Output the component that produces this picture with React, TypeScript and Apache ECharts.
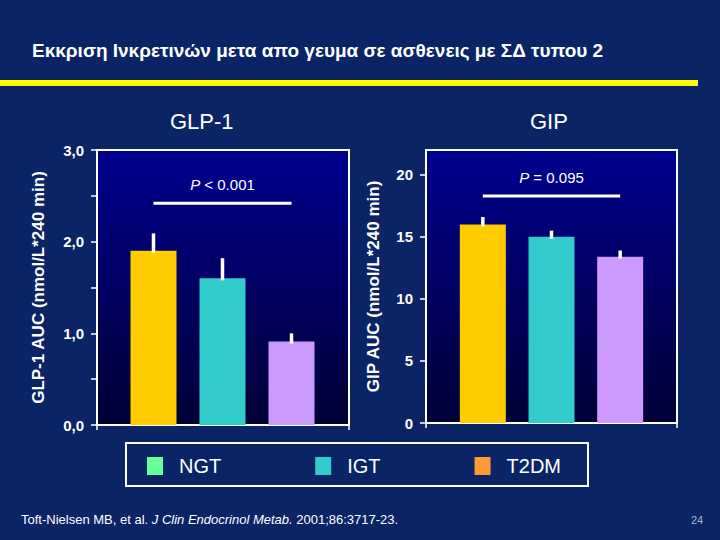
import React, { useEffect, useRef } from "react";
import * as echarts from "echarts";

const categories = ["NGT", "IGT", "T2DM"];
const glpMeans = [1.9, 1.6, 0.91];
const glpSem = [0.19, 0.22, 0.09];
const gipMeans = [16.0, 15.0, 13.4];
const gipSem = [0.6, 0.5, 0.5];
const barColors = ["#ffcc00", "#33cccc", "#cc99ff"];
const legendColors = ["#66ff99", "#33cccc", "#ff9933"];
const glpTickLabels = [0, 1, 2, 3];
const gipTickLabels = [0, 5, 10, 15, 20];
const pRest = [" < 0.001", " = 0.095"];
const pLineLevels = [2.42, 18.3];
const pTextLevels = [2.62, 19.75];

const FONT = "Liberation Sans, Arial, sans-serif";
const BG = "#0a2466";

export default function App() {
  const ref = useRef<HTMLDivElement>(null);
  useEffect(() => {
    document.body.style.margin = "0";
    const chart = echarts.init(ref.current!, undefined, { renderer: "svg" });
    const plotBg = new echarts.graphic.LinearGradient(0, 0, 0, 1, [
      { offset: 0, color: "#00008f" },
      { offset: 1, color: "#000036" },
    ]);
    const frameGrid = (left: number, width: number, height: number) => ({
      left,
      top: 150,
      width,
      height,
      show: true,
      borderColor: "#ffffff",
      borderWidth: 2,
      backgroundColor: plotBg,
    });
    const barGrid = (left: number, width: number, height: number) => ({
      left,
      top: 150,
      width,
      height,
    });
    const frameX = (gridIndex: number) => ({
      type: "category",
      gridIndex,
      data: [""],
      boundaryGap: true,
      axisLine: { lineStyle: { color: "#fff", width: 2 } },
      axisTick: { show: true, length: 5, lineStyle: { color: "#fff", width: 1.5 } },
      axisLabel: { show: false },
    });
    const barX = (gridIndex: number) => ({
      type: "category",
      gridIndex,
      data: categories,
      show: false,
    });
    const errSeries = (xi: number, means: number[], sem: number[]) => ({
      type: "custom",
      xAxisIndex: xi,
      yAxisIndex: xi,
      z: 5,
      silent: true,
      data: means.map((m, i) => [i, m, sem[i]]),
      renderItem: (params: any, api: any) => {
        const x = api.value(0);
        const m = api.value(1);
        const s = api.value(2);
        const p0 = api.coord([x, m]);
        const p1 = api.coord([x, m + s]);
        return {
          type: "line",
          shape: { x1: p0[0], y1: p0[1] + 2, x2: p1[0], y2: p1[1] },
          style: { stroke: "#ffffff", lineWidth: 3.5 },
        };
      },
    });
    const pSeries = (xi: number, k: number) => ({
      type: "custom",
      xAxisIndex: xi,
      yAxisIndex: xi,
      z: 5,
      silent: true,
      data: [[0, categories.length - 1, pLineLevels[k], pTextLevels[k]]],
      renderItem: (params: any, api: any) => {
        const a = api.coord([api.value(0), api.value(2)]);
        const b = api.coord([api.value(1), api.value(2)]);
        const t = api.coord([(api.value(0) + api.value(1)) / 2, api.value(3)]);
        return {
          type: "group",
          children: [
            {
              type: "line",
              shape: { x1: a[0], y1: a[1], x2: b[0], y2: b[1] },
              style: { stroke: "#ffffff", lineWidth: 3 },
            },
            {
              type: "text",
              x: t[0],
              y: t[1],
              style: {
                text: "{i|P}" + pRest[k],
                fill: "#ffffff",
                fontSize: 15,
                fontFamily: FONT,
                align: "center",
                verticalAlign: "middle",
                rich: {
                  i: { fontStyle: "italic", fill: "#ffffff", fontSize: 15, fontFamily: FONT },
                },
              },
            },
          ],
        };
      },
    });
    const barSeries: any[] = [];
    [glpMeans, gipMeans].forEach((means, panel) => {
      categories.forEach((c, i) => {
        barSeries.push({
          type: "bar",
          name: c,
          xAxisIndex: panel * 2 + 1,
          yAxisIndex: panel * 2 + 1,
          barWidth: 46,
          barGap: "-100%",
          itemStyle: { color: barColors[i] },
          data: means.map((v, j) => (j === i ? v : "-")),
        });
      });
    });

    chart.setOption({
      animation: false,
      backgroundColor: BG,
      textStyle: { fontFamily: FONT },
      title: [
        {
          text: "Εκκριση Ινκρετινών μετα απο γευμα σε ασθενεις με ΣΔ τυπου 2",
          left: 32,
          top: 41,
          padding: 0,
          textStyle: { color: "#ffffff", fontSize: 19, fontWeight: "bold", fontFamily: FONT },
        },
        {
          text: "GLP-1",
          left: 170,
          top: 110,
          padding: 0,
          textStyle: { color: "#ffffff", fontSize: 22, fontWeight: "normal", fontFamily: FONT },
        },
        {
          text: "GIP",
          left: 530,
          top: 110,
          padding: 0,
          textStyle: { color: "#ffffff", fontSize: 22, fontWeight: "normal", fontFamily: FONT },
        },
        {
          text: "{n|Toft-Nielsen MB, et al. }{i|J Clin Endocrinol Metab.}{n| 2001;86:3717-23.}",
          left: 21,
          top: 513,
          padding: 0,
          textStyle: {
            fontWeight: "normal",
            rich: {
              n: { color: "#ffffff", fontSize: 13, fontWeight: "normal", fontFamily: FONT },
              i: { color: "#ffffff", fontSize: 13, fontWeight: "normal", fontStyle: "italic", fontFamily: FONT },
            },
          },
        },
        {
          text: "24",
          left: 691,
          top: 514,
          padding: 0,
          textStyle: { color: "#aab4d4", fontSize: 11, fontWeight: "normal", fontFamily: FONT },
        },
      ],
      graphic: [
        {
          type: "rect",
          shape: { x: 0, y: 80, width: 698, height: 6 },
          style: { fill: "#ffff00" },
        },
      ],
      legend: {
        data: categories.map((c, i) => ({ name: c, itemStyle: { color: legendColors[i] } })),
        selectedMode: false,
        left: 126,
        top: 443,
        orient: "horizontal",
        padding: [13, 27, 10, 21],
        borderColor: "#ffffff",
        borderWidth: 2,
        icon: "rect",
        itemWidth: 16,
        itemHeight: 18,
        itemGap: 94,
        textStyle: { color: "#ffffff", fontSize: 20, fontFamily: FONT, padding: [0, 0, 0, 11] },
      },
      grid: [
        frameGrid(97, 252, 275),
        barGrid(119, 207, 275),
        frameGrid(426, 251, 273),
        barGrid(448.5, 206, 273),
      ],
      xAxis: [frameX(0), barX(1), frameX(2), barX(3)],
      yAxis: [
        {
          type: "value",
          gridIndex: 0,
          min: 0,
          max: 3,
          interval: 0.5,
          name: "GLP-1 AUC (nmol/L*240 min)",
          nameLocation: "middle",
          nameGap: 50,
          nameTextStyle: { color: "#ffffff", fontSize: 17, fontWeight: "bold", fontFamily: FONT },
          axisLine: { show: true, lineStyle: { color: "#fff", width: 2 } },
          axisTick: { show: true, length: 6, lineStyle: { color: "#fff", width: 1.5 } },
          splitLine: { show: false },
          axisLabel: {
            customValues: glpTickLabels,
            margin: 13,
            color: "#ffffff",
            fontSize: 15,
            fontWeight: "bold",
            fontFamily: FONT,
            formatter: (v: number) => v.toFixed(1).replace(".", ","),
          },
        },
        { type: "value", gridIndex: 1, min: 0, max: 3, show: false, splitLine: { show: false } },
        {
          type: "value",
          gridIndex: 2,
          min: 0,
          max: 22,
          name: "GIP AUC (nmol/L*240 min)",
          nameLocation: "middle",
          nameGap: 44,
          nameTextStyle: { color: "#ffffff", fontSize: 17, fontWeight: "bold", fontFamily: FONT },
          axisLine: { show: true, lineStyle: { color: "#fff", width: 2 } },
          axisTick: { show: true, length: 6, customValues: gipTickLabels, lineStyle: { color: "#fff", width: 1.5 } },
          splitLine: { show: false },
          axisLabel: {
            customValues: gipTickLabels,
            margin: 13,
            color: "#ffffff",
            fontSize: 15,
            fontWeight: "bold",
            fontFamily: FONT,
          },
        },
        { type: "value", gridIndex: 3, min: 0, max: 22, show: false, splitLine: { show: false } },
      ],
      series: [
        ...barSeries,
        errSeries(1, glpMeans, glpSem),
        errSeries(3, gipMeans, gipSem),
        pSeries(1, 0),
        pSeries(3, 1),
      ],
    });
    return () => chart.dispose();
  }, []);
  return <div ref={ref} style={{ width: 720, height: 540 }} />;
}
